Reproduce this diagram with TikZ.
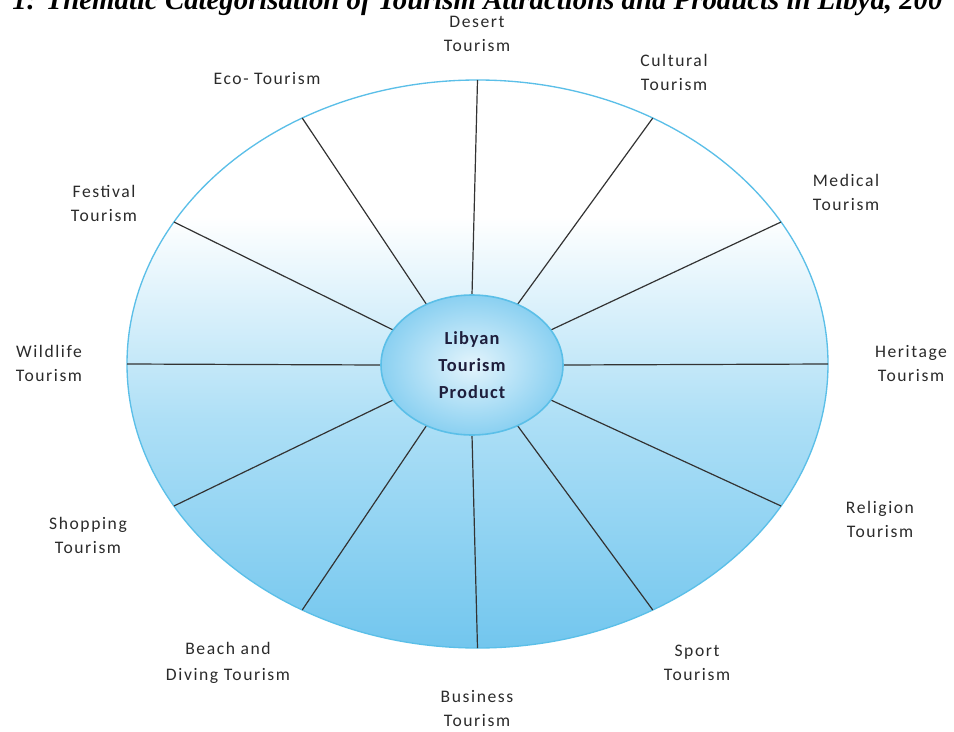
\documentclass[tikz,border=0pt]{standalone}
\usepackage{fontspec}
\setmainfont{Carlito}
\newfontfamily\labfont[LetterSpace=9]{Carlito}
\newfontfamily\hubfont[LetterSpace=6]{Carlito}
\newfontfamily\capfont{Liberation Serif}
\usetikzlibrary{shapes.geometric}
\definecolor{rimblue}{HTML}{5BBFE8}
\definecolor{fillbot}{HTML}{72C6EE}
\definecolor{fillmid}{HTML}{ADDFF6}
\definecolor{hubin}{HTML}{E3F4FC}
\definecolor{hubout}{HTML}{8AD0F1}
\definecolor{spokecol}{HTML}{333333}
\definecolor{labtext}{HTML}{2B2B2B}
\definecolor{hubtext}{HTML}{1E1E3C}
\pgfdeclareverticalshading{wheelshade}{100bp}{color(0bp)=(fillbot); color(25bp)=(fillbot); color(45bp)=(fillmid); color(63bp)=(white); color(100bp)=(white)}
\begin{document}
\begin{tikzpicture}[x=0.75pt,y=-0.75pt,
  lab/.style={font=\labfont\fontsize{13.2}{18}\selectfont, text=labtext, align=center, inner sep=0pt},
  spokeline/.style={draw=spokecol, line width=0.9pt},
  wheel/.style={draw=rimblue, line width=1pt, shade, shading=wheelshade},
  hubstyle/.style={ellipse, draw=rimblue, line width=1.2pt, inner color=hubin, outer color=hubout,
    minimum width=136.5pt, minimum height=105pt, inner sep=0pt, align=center, text=hubtext,
    font=\hubfont\bfseries\fontsize{13.8}{20.25}\selectfont}]
\useasboundingbox (0,0) rectangle (954,732);
\fill[white] (0,0) rectangle (954,732);
\begin{scope}
\clip (0,0) rectangle (954,732);
\node[anchor=base west, inner sep=0pt, font=\capfont\bfseries\itshape\fontsize{21.6}{24}\selectfont] (caption) at (12,9) {1: Thematic Categorisation of Tourism Attractions and Products in Libya, 200};
\end{scope}
\path[wheel] (477.5,364) ellipse [x radius=262.875pt, y radius=213pt];
\foreach \t in {0,30,...,330} {
  \coordinate (rim\t) at ({477.5+350.5*cos(\t)},{364-284*sin(\t)});
  \coordinate (nave\t) at ({472+91*cos(\t)},{365-70*sin(\t)});
  \draw[spokeline] (nave\t) -- (rim\t);
}
\node[hubstyle] (hub) at (472,365) {Libyan\\Tourism\\Product};
\node[lab] (desert) at (477,34) {Desert\\Tourism};
\node[lab] (cultural) at (674,72) {Cultural\\Tourism};
\node[lab] (medical) at (846,192) {Medical\\Tourism};
\node[lab] (heritage) at (911,364) {Heritage\\Tourism};
\node[lab] (religion) at (880,519) {Religion\\Tourism};
\node[lab] (sport) at (697,663) {Sport\\Tourism};
\node[lab] (business) at (477,709) {Business\\Tourism};
\node[lab] (beach) at (228,663) {Beach and\\[2pt]Diving Tourism};
\node[lab] (shopping) at (88,535) {Shopping\\Tourism};
\node[lab] (wildlife) at (49,363) {Wildlife\\Tourism};
\node[lab] (festival) at (104,203) {Festival\\Tourism};
\node[lab] (eco) at (267,79) {Eco- Tourism};
\end{tikzpicture}
\end{document}
